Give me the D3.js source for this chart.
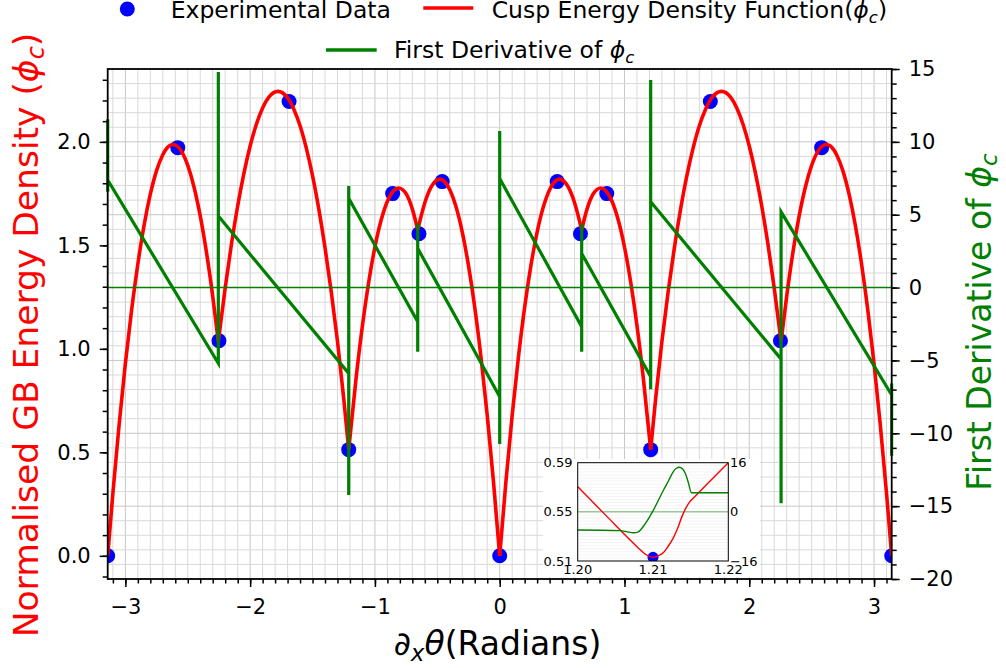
<!DOCTYPE html>
<html><head><meta charset="utf-8">
<script src="https://cdn.jsdelivr.net/npm/d3@7"></script>
<style>
body{margin:0;background:#fff}
svg{display:block}
text{font-family:"DejaVu Sans",sans-serif}
</style>
</head><body>
<svg id="chart" width="1006" height="668"></svg>
<script>
// ---------------- data ----------------
const xTicks = [-3, -2, -1, 0, 1, 2, 3];
const yLeftTicks = [0.0, 0.5, 1.0, 1.5, 2.0];
const yRightTicks = [-20, -15, -10, -5, 0, 5, 10, 15];

const expX = [-3.1416, -2.580, -2.250, -1.688, -1.210, -0.858, -0.647, -0.461, 0, 0.461, 0.647, 0.858, 1.210, 1.688, 2.250, 2.580, 3.1416];
const expY = [0, 1.972, 1.039, 2.195, 0.513, 1.750, 1.556, 1.808, 0, 1.808, 1.556, 1.750, 0.513, 2.195, 1.039, 1.972, 0];

const cuspBreaks = [-3.1416, -2.255, -1.21, -0.657, 0, 0.657, 1.21, 2.255, 3.1416];

const curveX = [-3.1416,-3.10,-3.05,-3.00,-2.95,-2.90,-2.85,-2.80,-2.75,-2.70,-2.65,-2.618,-2.55,-2.50,-2.45,-2.40,-2.35,-2.30,-2.255,
  -2.20,-2.15,-2.10,-2.05,-2.00,-1.95,-1.90,-1.85,-1.777,-1.70,-1.65,-1.60,-1.55,-1.50,-1.45,-1.40,-1.35,-1.30,-1.25,-1.21,
  -1.15,-1.10,-1.05,-1.00,-0.95,-0.90,-0.85,-0.81,-0.75,-0.70,-0.657,
  -0.60,-0.55,-0.48,-0.40,-0.35,-0.30,-0.25,-0.20,-0.15,-0.10,-0.05,0,
  0.05,0.10,0.15,0.20,0.25,0.30,0.35,0.40,0.48,0.55,0.60,0.657,
  0.70,0.75,0.81,0.85,0.90,0.95,1.00,1.05,1.10,1.15,1.21,
  1.25,1.30,1.35,1.40,1.45,1.50,1.55,1.60,1.65,1.70,1.777,1.85,1.90,1.95,2.00,2.05,2.10,2.15,2.20,2.255,
  2.30,2.35,2.40,2.45,2.50,2.55,2.618,2.65,2.70,2.75,2.80,2.85,2.90,2.95,3.00,3.05,3.10,3.1416];
const curveY = [0,0.303,0.634,0.929,1.188,1.410,1.597,1.747,1.861,1.938,1.980,1.987,1.954,1.886,1.782,1.642,1.466,1.254,1.035,
  1.294,1.505,1.690,1.848,1.980,2.085,2.164,2.216,2.244,2.213,2.158,2.078,1.970,1.837,1.676,1.489,1.276,1.036,0.760,0.513,
  0.864,1.113,1.322,1.492,1.622,1.713,1.764,1.777,1.749,1.675,1.575,
  1.706,1.781,1.820,1.769,1.686,1.564,1.402,1.201,0.960,0.679,0.359,0,
  0.359,0.679,0.960,1.201,1.402,1.564,1.686,1.769,1.820,1.781,1.706,1.575,
  1.675,1.749,1.777,1.764,1.713,1.622,1.492,1.322,1.113,0.864,0.513,
  0.760,1.036,1.276,1.489,1.676,1.837,1.970,2.078,2.158,2.213,2.244,2.216,2.164,2.085,1.980,1.848,1.690,1.505,1.294,1.035,
  1.254,1.466,1.642,1.782,1.886,1.954,1.987,1.980,1.938,1.861,1.747,1.597,1.410,1.188,0.929,0.634,0.303,0];

const derivX = [-3.1416,-3.1416,-3.1416,-2.255,-2.255,-2.255,-1.21,-1.21,-1.21,-1.21,-0.657,-0.657,-0.657,-0.657,
  0,0,0,0,0.657,0.657,0.657,0.657,1.21,1.21,1.21,1.21,2.255,2.255,2.255,3.1416,3.1416,3.1416];
const derivY = [11.55,6.58,7.38,-5.20,14.8,4.91,-5.89,-14.24,6.97,6.12,-2.34,-4.40,4.41,2.69,
  -7.49,-10.74,10.74,7.49,-2.69,-4.41,4.40,2.34,-6.12,-6.97,14.24,5.89,-4.91,-14.8,5.20,-7.38,-6.58,-11.55];

const insetXTicks = [1.20, 1.21, 1.22];
const insetYLeftTicks = [0.51, 0.55, 0.59];
const insetYRightTicks = [-16, 0, 16];
const insetCurveX = [1.2000,1.2040,1.2070,1.2080,1.2090,1.2100,1.2107,1.2114,1.2120,1.2127,1.2133,1.2138,1.2144,1.2149,1.2155,1.2200];
const insetCurveY = [0.5705,0.5455,0.5268,0.5208,0.5155,0.5130,0.5143,0.5170,0.5218,0.5288,0.5370,0.5455,0.5535,0.5583,0.5621,0.5900];
const insetDerivX = [1.2000,1.2056,1.2066,1.2074,1.2080,1.2085,1.2092,1.2100,1.2107,1.2114,1.2121,1.2127,1.2131,1.2135,1.2139,1.2143,1.2147,1.2151,1.2200];
const insetDerivY = [-5.9,-6.1,-6.5,-6.8,-6.6,-5.4,-3.0,0.3,3.7,7.1,10.3,13.1,14.2,14.5,14.0,12.5,9.5,6.2,6.2];
const insetPointX = [1.21];
const insetPointY = [0.513];

// ---------------- layout ----------------
const svg = d3.select('#chart');
const L = 107.7, R = 891.7, T = 69, B = 579;
const RED = '#ff0000', GREEN = '#008000', BLUE = '#0000ff';

const x = d3.scaleLinear().domain([-Math.PI, Math.PI]).range([L, R]);
const yL = d3.scaleLinear().domain([-0.112, 2.352]).range([B, T]);
const yR = d3.scaleLinear().domain([-20, 15]).range([B, T]);

const defs = svg.append('defs');
defs.append('clipPath').attr('id', 'plotClip')
  .append('rect').attr('x', L).attr('y', T).attr('width', R - L).attr('height', B - T);
defs.append('clipPath').attr('id', 'derivClip')
  .append('rect').attr('x', L - 2).attr('y', T).attr('width', R - L + 4).attr('height', B - T);

// grid
const minorX = d3.range(-31, 32).map(d => d / 10);
const minorR = d3.range(-19, 15);
const grid = svg.append('g');
grid.selectAll('.vg').data(minorX).join('line')
  .attr('x1', d => x(d)).attr('x2', d => x(d)).attr('y1', T).attr('y2', B)
  .attr('stroke', d => Math.abs(d - Math.round(d)) < 1e-6 ? '#c6c6c6' : '#d9d9d9')
  .attr('stroke-width', 1);
grid.selectAll('.hg').data(minorR).join('line')
  .attr('x1', L).attr('x2', R).attr('y1', d => yR(d)).attr('y2', d => yR(d))
  .attr('stroke', d => d % 5 === 0 ? '#c6c6c6' : '#d9d9d9')
  .attr('stroke-width', 1);

const plot = svg.append('g').attr('clip-path', 'url(#plotClip)');

// experimental points
plot.selectAll('circle.exp').data(expX.map((d, i) => [d, expY[i]])).join('circle')
  .attr('cx', d => x(d[0])).attr('cy', d => yL(d[1])).attr('r', 7.5).attr('fill', BLUE);

// cusp energy function, one path per segment between cusps
const segLine = d3.line().x(d => x(d[0])).y(d => yL(d[1])).curve(d3.curveMonotoneX);
const pts = curveX.map((d, i) => [d, curveY[i]]);
for (let i = 0; i < cuspBreaks.length - 1; i++) {
  const seg = pts.filter(p => p[0] >= cuspBreaks[i] - 1e-9 && p[0] <= cuspBreaks[i + 1] + 1e-9);
  plot.append('path').attr('d', segLine(seg)).attr('fill', 'none')
    .attr('stroke', RED).attr('stroke-width', 3.6).attr('stroke-linejoin', 'round');
}

// zero line of derivative axis
plot.append('line').attr('x1', L).attr('x2', R).attr('y1', yR(0)).attr('y2', yR(0))
  .attr('stroke', GREEN).attr('stroke-width', 1.6);

// derivative
const dLine = d3.line().x(d => x(d[0])).y(d => yR(d[1]));
svg.append('g').attr('clip-path', 'url(#derivClip)').append('path')
  .attr('d', dLine(derivX.map((d, i) => [d, derivY[i]])))
  .attr('fill', 'none').attr('stroke', GREEN).attr('stroke-width', 3.2).attr('stroke-linejoin', 'miter');

// axes
function styleAxis(g, size) {
  g.select('.domain').remove();
  g.selectAll('.tick line').attr('stroke', '#000').attr('stroke-width', 1.5);
  g.selectAll('.tick text').attr('fill', '#000').style('font-size', size + 'px').style('font-family', '"DejaVu Sans",sans-serif');
}
const fmtInt = d3.format('d');
styleAxis(svg.append('g').attr('transform', `translate(0,${B})`)
  .call(d3.axisBottom(x).tickValues(xTicks).tickSize(8).tickPadding(12).tickFormat(fmtInt)), 21);
styleAxis(svg.append('g').attr('transform', `translate(0,${B})`)
  .call(d3.axisBottom(x).tickValues(minorX).tickSize(4.5).tickFormat('')), 21);
styleAxis(svg.append('g').attr('transform', `translate(${L},0)`)
  .call(d3.axisLeft(yL).tickValues(yLeftTicks).tickSize(8).tickPadding(9).tickFormat(d3.format('.1f'))), 21);
styleAxis(svg.append('g').attr('transform', `translate(${L},0)`)
  .call(d3.axisLeft(yL).tickValues(d3.range(-1, 24).map(d => d / 10)).tickSize(5).tickFormat('')), 21);
styleAxis(svg.append('g').attr('transform', `translate(${R},0)`)
  .call(d3.axisRight(yR).tickValues(yRightTicks).tickSize(8).tickPadding(9).tickFormat(fmtInt)), 21);
styleAxis(svg.append('g').attr('transform', `translate(${R},0)`)
  .call(d3.axisRight(yR).tickValues(d3.range(-20, 16)).tickSize(5).tickFormat('')), 21);

// spines
svg.append('rect').attr('x', L).attr('y', T).attr('width', R - L).attr('height', B - T)
  .attr('fill', 'none').attr('stroke', '#000').attr('stroke-width', 1.8);

// axis labels
const lab = svg.append('text').attr('transform', 'translate(38,335) rotate(-90)')
  .attr('text-anchor', 'middle').attr('fill', RED).style('font-size', '34.5px');
lab.append('tspan').text('Normalised GB Energy Density (');
lab.append('tspan').attr('font-style', 'italic').text('ϕ');
lab.append('tspan').attr('font-style', 'italic').attr('dy', 6).style('font-size', '24px').text('c');
lab.append('tspan').attr('dy', -6).text(')');

const rlab = svg.append('text').attr('transform', 'translate(991,322) rotate(-90)')
  .attr('text-anchor', 'middle').attr('fill', GREEN).style('font-size', '33px');
rlab.append('tspan').text('First Derivative of ');
rlab.append('tspan').attr('font-style', 'italic').text('ϕ');
rlab.append('tspan').attr('font-style', 'italic').attr('dy', 6).style('font-size', '23px').text('c');

const xlab = svg.append('text').attr('x', 497.5).attr('y', 655)
  .attr('text-anchor', 'middle').attr('fill', '#000').style('font-size', '33px');
xlab.append('tspan').attr('font-style', 'italic').text('∂');
xlab.append('tspan').attr('font-style', 'italic').attr('dy', 6).style('font-size', '23px').text('x');
xlab.append('tspan').attr('font-style', 'italic').attr('dy', -6).text('θ');
xlab.append('tspan').text('(Radians)');

// legend
const leg = svg.append('g');
leg.append('circle').attr('cx', 127.3).attr('cy', 9).attr('r', 7.5).attr('fill', BLUE);
leg.append('text').attr('x', 170.7).attr('y', 18).style('font-size', '23.5px').text('Experimental Data');
leg.append('line').attr('x1', 423.3).attr('x2', 473.3).attr('y1', 8).attr('y2', 8).attr('stroke', RED).attr('stroke-width', 3.6);
const lt = leg.append('text').attr('x', 491.7).attr('y', 18).style('font-size', '23.5px');
lt.append('tspan').text('Cusp Energy Density Function(');
lt.append('tspan').attr('font-style', 'italic').text('ϕ');
lt.append('tspan').attr('font-style', 'italic').attr('dy', 5).style('font-size', '16.5px').text('c');
lt.append('tspan').attr('dy', -5).text(')');
leg.append('line').attr('x1', 326).attr('x2', 376.7).attr('y1', 50).attr('y2', 50).attr('stroke', GREEN).attr('stroke-width', 3.6);
const lt2 = leg.append('text').attr('x', 394).attr('y', 57.5).style('font-size', '23.5px');
lt2.append('tspan').text('First Derivative of ');
lt2.append('tspan').attr('font-style', 'italic').text('ϕ');
lt2.append('tspan').attr('font-style', 'italic').attr('dy', 5).style('font-size', '16.5px').text('c');

// ---------------- inset ----------------
const iL = 577.7, iR = 728.3, iT = 462.7, iB = 561;
svg.append('rect').attr('x', 543).attr('y', 459).attr('width', 217).attr('height', 118).attr('fill', '#fff');
const xi = d3.scaleLinear().domain([1.20, 1.22]).range([iL, iR]);
const yLi = d3.scaleLinear().domain([0.51, 0.59]).range([iB, iT]);
const yRi = d3.scaleLinear().domain([-16, 16]).range([iB, iT]);
defs.append('clipPath').attr('id', 'insetClip')
  .append('rect').attr('x', iL).attr('y', iT).attr('width', iR - iL).attr('height', iB - iT);
const ig = svg.append('g');
ig.selectAll('line.ig').data(d3.range(-15, 16)).join('line')
  .attr('x1', iL).attr('x2', iR).attr('y1', d => yRi(d)).attr('y2', d => yRi(d))
  .attr('stroke', '#ececec').attr('stroke-width', 0.6);
const ip = svg.append('g').attr('clip-path', 'url(#insetClip)');
ip.selectAll('circle').data(insetPointX.map((d, i) => [d, insetPointY[i]])).join('circle')
  .attr('cx', d => xi(d[0])).attr('cy', d => yLi(d[1])).attr('r', 5.5).attr('fill', BLUE);
ip.append('line').attr('x1', iL).attr('x2', iR).attr('y1', yRi(0)).attr('y2', yRi(0))
  .attr('stroke', GREEN).attr('stroke-opacity', 0.6).attr('stroke-width', 1);
ip.append('path').attr('d', d3.line().x(d => xi(d[0])).y(d => yLi(d[1])).curve(d3.curveMonotoneX)(insetCurveX.map((d, i) => [d, insetCurveY[i]])))
  .attr('fill', 'none').attr('stroke', RED).attr('stroke-width', 1.4);
ip.append('path').attr('d', d3.line().x(d => xi(d[0])).y(d => yRi(d[1])).curve(d3.curveMonotoneX)(insetDerivX.map((d, i) => [d, insetDerivY[i]])))
  .attr('fill', 'none').attr('stroke', GREEN).attr('stroke-width', 1.4);
svg.append('rect').attr('x', iL).attr('y', iT).attr('width', iR - iL).attr('height', iB - iT)
  .attr('fill', 'none').attr('stroke', '#000').attr('stroke-width', 1);
svg.append('g').selectAll('text').data(insetYLeftTicks).join('text')
  .attr('x', 572.5).attr('y', d => yLi(d)).attr('dy', '0.35em').attr('text-anchor', 'end')
  .style('font-size', '13px').text(d3.format('.2f'));
svg.append('g').selectAll('text').data(insetYRightTicks).join('text')
  .attr('x', 730).attr('y', d => yRi(d)).attr('dy', '0.35em').attr('text-anchor', 'start')
  .style('font-size', '13px').text(fmtInt);
svg.append('g').selectAll('text').data(insetXTicks).join('text')
  .attr('x', d => xi(d)).attr('y', 574).attr('text-anchor', 'middle')
  .style('font-size', '13px').text(d3.format('.2f'));
</script>
</body></html>
